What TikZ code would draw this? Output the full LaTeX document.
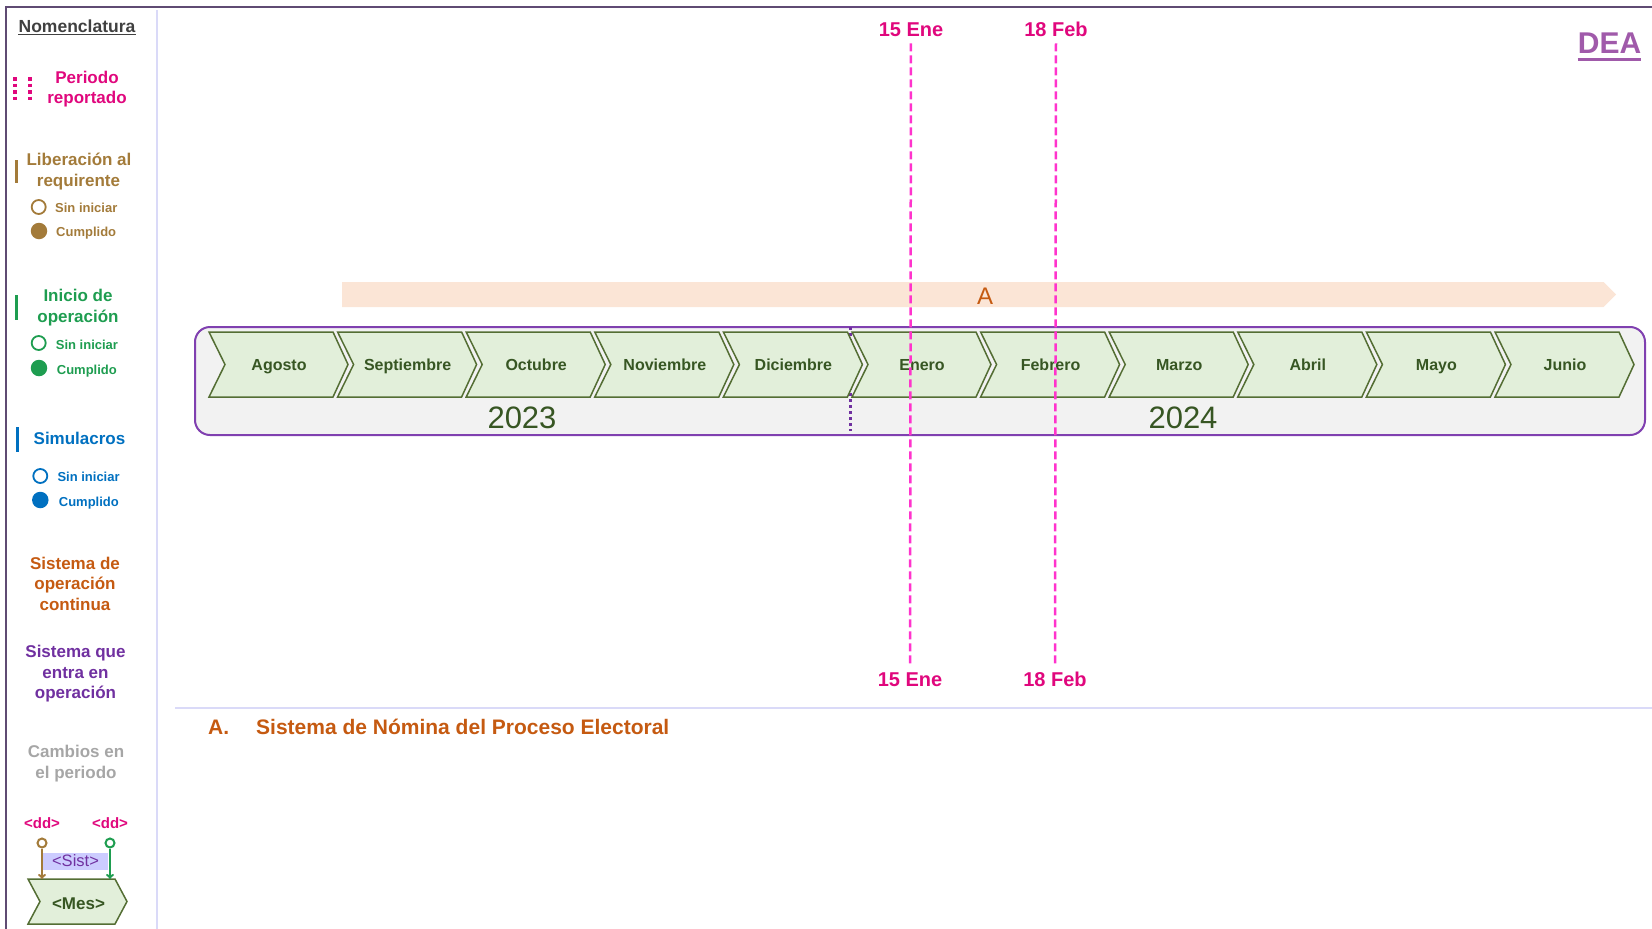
\documentclass[tikz,border=0pt]{standalone}
\usepackage{fontspec}
\setmainfont{Liberation Sans}
\usetikzlibrary{arrows.meta}
\definecolor{mag}{RGB}{224,7,125}
\definecolor{pinkdash}{RGB}{255,51,204}
\definecolor{brownc}{RGB}{163,123,58}
\definecolor{greenc}{RGB}{30,157,80}
\definecolor{bluec}{RGB}{0,112,192}
\definecolor{orangec}{RGB}{197,90,17}
\definecolor{purplec}{RGB}{112,48,160}
\definecolor{grayc}{RGB}{166,166,166}
\definecolor{chevfill}{RGB}{226,239,218}
\definecolor{chevline}{RGB}{84,110,52}
\definecolor{chevtext}{RGB}{55,86,35}
\definecolor{boxline}{RGB}{128,64,176}
\definecolor{boxfill}{RGB}{242,242,242}
\definecolor{peach}{RGB}{251,229,214}
\definecolor{framec}{RGB}{95,75,115}
\definecolor{sepc}{RGB}{218,218,248}
\definecolor{deac}{RGB}{160,90,170}
\definecolor{sistfill}{RGB}{204,204,255}
\definecolor{nomc}{RGB}{64,64,64}
\newcommand\fsz[1]{\fontsize{#1}{#1}\selectfont}
\tikzset{
  txt/.style={inner sep=0pt, anchor=base},
  txtl/.style={inner sep=0pt, anchor=base west},
  head/.style={txt, font=\bfseries\fsz{17}},
  small/.style={txtl, font=\bfseries\fsz{13}},
  ring/.style={circle, draw=#1, line width=1.8pt, inner sep=0pt, minimum size=14pt},
  dot/.style={circle, fill=#1, inner sep=0pt, minimum size=16.5pt},
  legbar/.style={line width=3pt},
  chev/.style={draw=chevline, fill=chevfill, line width=1.5pt, line join=miter},
  month/.style={txt, font=\bfseries\fsz{16}, text=chevtext},
  year/.style={txt, font=\fsz{31}, text=chevtext},
  datelbl/.style={txt, font=\bfseries\fsz{20}, text=mag},
  dateline/.style={pinkdash, line width=2.5pt, dash pattern=on 8pt off 4pt},
  lolli/.style={circle, draw=#1, fill=white, line width=2pt, inner sep=0pt, minimum size=9pt},
  lolliarrow/.style={#1, line width=2pt, -{To[length=5pt,width=8pt]}},
}
\begin{document}
\begin{tikzpicture}[x=1pt,y=-1pt]
\useasboundingbox (0,0) rectangle (1652,929);
% frame and separators
\draw[framec, line width=2.5pt] (6,929) -- (6,7) -- (1652,7);
\draw[sepc, line width=1.5pt] (157,10) -- (157,929);
\draw[sepc, line width=2pt] (175,708) -- (1652,708);

% ---------- legend ----------
\node[txt, font=\bfseries\fsz{17.5}, text=nomc] (nom) at (77,32.8) {Nomenclatura};
\draw[nomc, line width=1.5pt] ([yshift=-1.6pt]nom.base west) -- ([yshift=-1.6pt]nom.base east);

\draw[mag, line width=4pt, dash pattern=on 3.5pt off 3pt] (15.3,77) -- (15.3,100);
\draw[mag, line width=4pt, dash pattern=on 3.5pt off 3pt] (30,77) -- (30,100);
\node[head, text=mag] (per1) at (87,83) {Periodo};
\node[head, text=mag] (per2) at (87,103.3) {reportado};

\draw[brownc, legbar] (16,160) -- (16,183);
\node[head, text=brownc] (lib1) at (79,165.7) {Liberación al};
\node[head, text=brownc] (lib2) at (78.5,186) {requirente};
\node[ring=brownc] (libc1) at (38.7,207) {};
\node[small, text=brownc] (libt1) at (55,212.3) {Sin iniciar};
\node[dot=brownc] (libc2) at (39,231) {};
\node[small, text=brownc] (libt2) at (56,236.5) {Cumplido};

\draw[greenc, legbar] (16,295) -- (16,320);
\node[head, text=greenc] (ini1) at (78,301.7) {Inicio de};
\node[head, text=greenc] (ini2) at (78,322) {operación};
\node[ring=greenc] (inic1) at (38.7,343) {};
\node[small, text=greenc] (init1) at (55.7,349.3) {Sin iniciar};
\node[dot=greenc] (inic2) at (39,368) {};
\node[small, text=greenc] (init2) at (56.7,374.3) {Cumplido};

\draw[bluec, legbar] (17,427) -- (17,452);
\node[head, text=bluec] (sim1) at (79.5,444.3) {Simulacros};
\node[ring=bluec] (simc1) at (40.3,476) {};
\node[small, text=bluec] (simt1) at (57.3,481.7) {Sin iniciar};
\node[dot=bluec] (simc2) at (40.3,500) {};
\node[small, text=bluec] (simt2) at (58.7,506.7) {Cumplido};

\node[head, text=orangec] (soc1) at (75,569.3) {Sistema de};
\node[head, text=orangec] (soc2) at (75,589.8) {operación};
\node[head, text=orangec] (soc3) at (75,610.5) {continua};

\node[head, text=purplec] (seo1) at (75.5,657.7) {Sistema que};
\node[head, text=purplec] (seo2) at (75.5,678.3) {entra en};
\node[head, text=purplec] (seo3) at (75.5,698.5) {operación};

\node[head, text=grayc] (cam1) at (76,757.3) {Cambios en};
\node[head, text=grayc] (cam2) at (76,778.3) {el periodo};

\node[txt, font=\bfseries\fsz{15}, text=mag] (dd1) at (42,828.3) {<dd>};
\node[txt, font=\bfseries\fsz{15}, text=mag] (dd2) at (110,828.3) {<dd>};
\node[fill=sistfill, text=purplec, font=\fsz{16.5}, minimum width=65pt, minimum height=17pt,
      inner sep=0pt, text height=11.8pt, text depth=0pt] (sist) at (75.5,861) {<Sist>};
\draw[chev] (28,879) -- (115,879) -- (127,901.5) -- (115,924) -- (28,924) -- (40,901.5) -- cycle;
\node[txt, font=\bfseries\fsz{17}, text=chevtext] (mes) at (78.5,909.3) {<Mes>};
\node[lolli=brownc] (lp1) at (42,843) {};
\node[lolli=greenc] (lp2) at (110,843) {};
\coordinate (lp1e) at (42,879);
\coordinate (lp2e) at (110,879);
\draw[lolliarrow=brownc] (lp1) -- (lp1e);
\draw[lolliarrow=greenc] (lp2) -- (lp2e);

% ---------- timeline ----------
\fill[peach] (342,282) -- (1603.5,282) -- (1616,294.5) -- (1603.5,307) -- (342,307) -- cycle;
\node[txt, font=\fsz{24}, text=orangec] (sysA) at (985,304) {A};

\draw[boxline, fill=boxfill, line width=2pt, rounded corners=15pt] (195,327) rectangle (1645,435);
\draw[purplec, line width=3pt, dash pattern=on 3pt off 3pt] (850,327) -- (850,431);

\foreach \m [count=\i from 0] in {Agosto,Septiembre,Octubre,Noviembre,Diciembre,Enero,Febrero,Marzo,Abril,Mayo,Junio}{
  \pgfmathsetmacro\xo{209+128.6*\i}
  \draw[chev] (\xo,332) -- (\xo+124,332) -- (\xo+139,364.5) -- (\xo+124,397) -- (\xo,397) -- (\xo+16,364.5) -- cycle;
  \node[month] (m\i) at (\xo+70,370.8) {\m};
}
\node[year] (y2023) at (522,428) {2023};
\node[year] (y2024) at (1183,428) {2024};

% dates
\node[datelbl] (d15t) at (911,36) {15 Ene};
\node[datelbl] (d18t) at (1056,36) {18 Feb};
\node[datelbl] (d15b) at (910,686) {15 Ene};
\node[datelbl] (d18b) at (1055,686) {18 Feb};
\draw[dateline, shorten <=7pt, shorten >=6.5pt] (d15t.south) -- (d15b.north);
\draw[dateline, shorten <=7pt, shorten >=6.5pt] (d18t.south) -- (d18b.north);

% DEA
\node[txt, font=\bfseries\fsz{30}, text=deac] (dea) at (1609.5,53.3) {DEA};
\draw[deac, line width=3pt] ([yshift=-6pt]dea.base west) -- ([yshift=-6pt]dea.base east);

% bottom legend
\node[txtl, font=\bfseries\fsz{21}, text=orangec] (la) at (208,734) {A.};
\node[txtl, font=\bfseries\fsz{21}, text=orangec] (lat) at (256,734) {Sistema de Nómina del Proceso Electoral};
\end{tikzpicture}
\end{document}
